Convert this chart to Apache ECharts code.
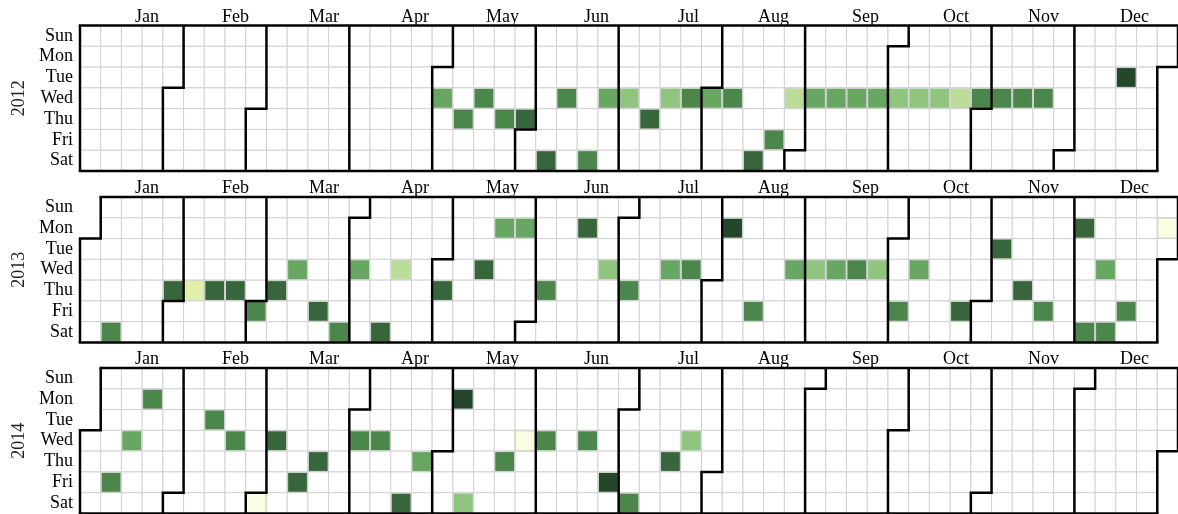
<!DOCTYPE html>
<html>
<head>
<meta charset="utf-8">
<title>Calendar</title>
<script src="https://cdn.jsdelivr.net/npm/echarts@6/dist/echarts.min.js"></script>
<style>
  html, body { margin: 0; padding: 0; background: #fff; }
  #main { width: 1178px; height: 514px; }
</style>
</head>
<body>
<div id="main"></div>
<script>
// levels 1..8, light -> dark
var levelColors = ['#fbfde3', '#e0f0aa', '#bcdc9a', '#90c580', '#67a762', '#4b864a', '#38663c', '#24472b'];

var years = ['2012', '2013', '2014'];
var monthNames = ['Jan', 'Feb', 'Mar', 'Apr', 'May', 'Jun', 'Jul', 'Aug', 'Sep', 'Oct', 'Nov', 'Dec'];
var dayNames = ['Sun', 'Mon', 'Tue', 'Wed', 'Thu', 'Fri', 'Sat'];

var days2012 = ['2012-05-02', '2012-05-10', '2012-05-16', '2012-05-24', '2012-05-31', '2012-06-09', '2012-06-13',
  '2012-06-23', '2012-06-27', '2012-07-04', '2012-07-12', '2012-07-18', '2012-07-25', '2012-08-01', '2012-08-08',
  '2012-08-18', '2012-08-24', '2012-08-29', '2012-09-05', '2012-09-12', '2012-09-19', '2012-09-26', '2012-10-03',
  '2012-10-10', '2012-10-17', '2012-10-24', '2012-10-31', '2012-11-07', '2012-11-14', '2012-11-21', '2012-12-18'];
var levels2012 = [5, 6, 6, 6, 7, 7, 6, 6, 5, 4, 7, 4, 6, 5, 6, 7, 6, 3, 5, 5, 5, 5, 4, 4, 4, 3, 6, 6, 6, 6, 8];

var days2013 = ['2013-01-12', '2013-01-31', '2013-02-07', '2013-02-14', '2013-02-21', '2013-03-01', '2013-03-07',
  '2013-03-13', '2013-03-22', '2013-03-30', '2013-04-03', '2013-04-13', '2013-04-17', '2013-05-02', '2013-05-15',
  '2013-05-20', '2013-05-27', '2013-06-06', '2013-06-17', '2013-06-26', '2013-07-04', '2013-07-17', '2013-07-24',
  '2013-08-05', '2013-08-16', '2013-08-28', '2013-09-04', '2013-09-11', '2013-09-18', '2013-09-25', '2013-10-04',
  '2013-10-09', '2013-10-25', '2013-11-05', '2013-11-14', '2013-11-22', '2013-12-02', '2013-12-07', '2013-12-11',
  '2013-12-14', '2013-12-20', '2013-12-30'];
var levels2013 = [6, 7, 2, 7, 7, 6, 7, 5, 7, 6, 5, 7, 3, 7, 7, 5, 5, 6, 7, 4, 6, 5, 6, 8, 6, 5, 4, 5, 6, 4, 6,
  5, 7, 7, 7, 6, 7, 6, 5, 6, 6, 1];

var days2014 = ['2014-01-10', '2014-01-15', '2014-01-20', '2014-02-11', '2014-02-19', '2014-03-01', '2014-03-05',
  '2014-03-14', '2014-03-20', '2014-04-02', '2014-04-09', '2014-04-19', '2014-04-24', '2014-05-05', '2014-05-10',
  '2014-05-22', '2014-05-28', '2014-06-04', '2014-06-18', '2014-06-27', '2014-07-05', '2014-07-17', '2014-07-23'];
var levels2014 = [6, 5, 6, 6, 6, 1, 7, 7, 7, 6, 6, 7, 5, 8, 4, 6, 1, 6, 6, 8, 6, 7, 4];

var allDays = [days2012, days2013, days2014];
var allLevels = [levels2012, levels2013, levels2014];

var font = 'Liberation Serif';
var calTops = [25.5, 197, 368];

var calendars = [];
var grids = [];
var xAxes = [];
var yAxes = [];
var series = [];

years.forEach(function (y, i) {
    calendars.push({
        range: y,
        orient: 'horizontal',
        left: 80,
        right: 0,
        top: calTops[i],
        height: 145.5,
        cellSize: ['auto', 'auto'],
        splitLine: { show: true, lineStyle: { color: '#000', width: 2.5 } },
        itemStyle: { color: '#fff', borderColor: '#d2d2d2', borderWidth: 1 },
        dayLabel: {
            firstDay: 0, position: 'start', margin: 7, nameMap: dayNames,
            fontFamily: font, fontSize: 18, color: '#000'
        },
        monthLabel: { show: false },
        yearLabel: {
            show: true, position: 'left', margin: 52,
            fontFamily: font, fontSize: 18, fontWeight: 'normal', color: '#222'
        }
    });

    // month names sit at even steps above each year
    grids.push({ left: 159, right: 29, top: calTops[i], height: 10 });
    xAxes.push({
        gridIndex: i, type: 'category', position: 'top', boundaryGap: false,
        data: monthNames,
        axisLine: { show: false }, axisTick: { show: false }, splitLine: { show: false },
        axisLabel: {
            interval: 0, align: 'right', verticalAlign: 'middle', margin: 8.5,
            fontFamily: font, fontSize: 18, color: '#000'
        }
    });
    yAxes.push({ gridIndex: i, type: 'value', show: false });

    series.push({
        type: 'heatmap',
        coordinateSystem: 'calendar',
        calendarIndex: i,
        itemStyle: { borderColor: '#d2d2d2', borderWidth: 1 },
        data: allDays[i].map(function (d, k) { return [d, allLevels[i][k]]; })
    });
});

var option = {
    backgroundColor: '#fff',
    animation: false,
    visualMap: {
        show: false,
        type: 'piecewise',
        seriesIndex: [0, 1, 2],
        pieces: levelColors.map(function (c, k) { return { value: k + 1, color: c }; })
    },
    calendar: calendars,
    grid: grids,
    xAxis: xAxes,
    yAxis: yAxes,
    series: series
};

var myChart = echarts.init(document.getElementById('main'));
myChart.setOption(option);
</script>
</body>
</html>
